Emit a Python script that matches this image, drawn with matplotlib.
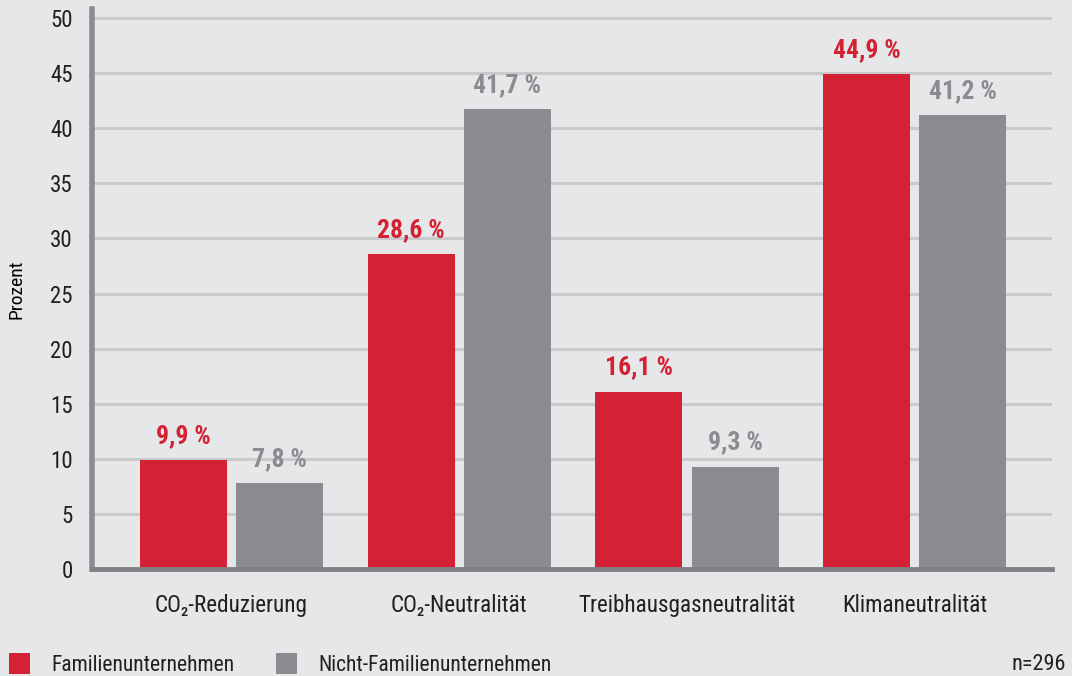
import matplotlib.pyplot as plt
import matplotlib.font_manager as fm
import numpy as np

# data
categories = ['CO\u2082-Reduzierung', 'CO\u2082-Neutralität', 'Treibhausgasneutralität', 'Klimaneutralität']
familien = [9.9, 28.6, 16.1, 44.9]
nicht_familien = [7.8, 41.7, 9.3, 41.2]
series_names = ['Familienunternehmen', 'Nicht-Familienunternehmen']
y_ticks = [0, 5, 10, 15, 20, 25, 30, 35, 40, 45, 50]
note = 'n=296'

RED = '#d42133'
GREY = '#8b8c8f'
BG = '#e6e7e9'

names = {f.name for f in fm.fontManager.ttflist}
fams = [f for f in ['Roboto Condensed', 'Liberation Sans Narrow', 'Liberation Sans', 'DejaVu Sans'] if f in names]
plt.rcParams['font.family'] = fams + ['DejaVu Sans']
plt.rcParams['text.color'] = '#231f20'

fig = plt.figure(figsize=(10.72, 6.76), dpi=100, facecolor=BG)
ax = fig.add_axes([92 / 1072, 107 / 676, 960 / 1072, 560 / 676])
ax.set_facecolor(BG)

x = np.arange(len(categories))
w = 0.382
off = 0.211
b1 = ax.bar(x - off, familien, w, color=RED, zorder=3, label=series_names[0])
b2 = ax.bar(x + off, nicht_familien, w, color=GREY, zorder=3, label=series_names[1])

for bars, vals, col in [(b1, familien, RED), (b2, nicht_familien, GREY)]:
    for rect, v in zip(bars, vals):
        ax.text(rect.get_x() + rect.get_width() / 2, v + 1.1, f'{v:.1f} %'.replace('.', ','),
                ha='center', va='bottom', color=col, fontsize=18.5, fontweight='bold')

ax.set_xlim(-0.613, 3.603)
ax.set_ylim(0, 50.82)
ax.set_yticks(y_ticks)
ax.set_xticks(x)
ax.set_xticklabels(categories)
ax.tick_params(axis='both', length=0, labelsize=16.7, colors='#231f20')
ax.tick_params(axis='y', pad=14, labelsize=16.5)
ax.tick_params(axis='x', pad=18)
ax.grid(axis='y', color='#c9cacc', linewidth=2.2, zorder=0)
ax.set_axisbelow(True)

for s in ['top', 'right']:
    ax.spines[s].set_visible(False)
ax.spines['left'].set_color('#8b8c8f')
ax.spines['left'].set_linewidth(4)
ax.spines['bottom'].set_color('#808184')
ax.spines['bottom'].set_linewidth(3.5)
ax.spines['left'].set_zorder(4)
ax.spines['bottom'].set_zorder(4)

ax.set_ylabel('Prozent', fontsize=14)
ax.yaxis.set_label_coords(-0.069, 0.5)

fig.legend(handles=[b1, b2], labels=series_names, loc='lower left',
           bbox_to_anchor=(0.0, -0.012), ncol=2, frameon=False, fontsize=15.5,
           handlelength=1.0, handleheight=1.1, handletextpad=1.0, columnspacing=1.9,
           borderaxespad=0.0)
fig.text(1066 / 1072, 12 / 676, note, ha='right', va='center', fontsize=16)

fig.savefig('out.png', dpi=100, facecolor=BG)
